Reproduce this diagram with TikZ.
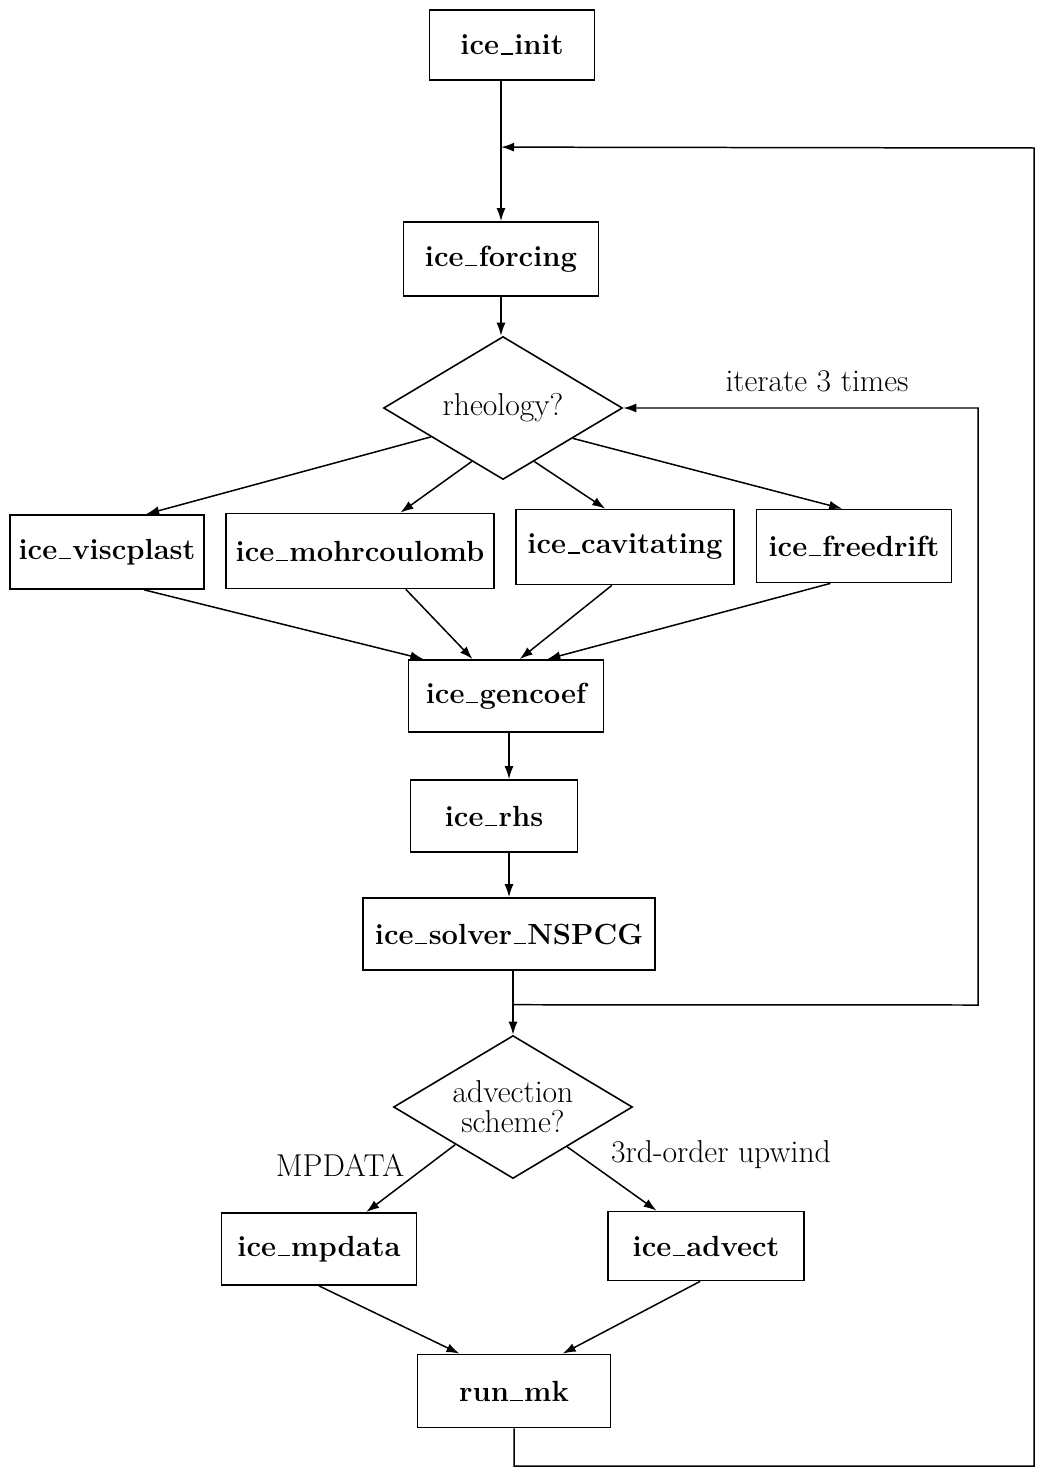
\documentclass[tikz,border=0pt]{standalone}
\usetikzlibrary{shapes.geometric,arrows.meta,calc}
\newcommand\usc{\kern0.05em\rule{0.42em}{0.85pt}\kern0.05em}
\begin{document}
\begin{tikzpicture}[x=0.02cm,y=-0.02cm,
 box/.style={draw,line width=1pt,inner sep=0pt,font=\fontsize{16.6}{19}\selectfont\bfseries},
 dec/.style={draw,diamond,line width=0.9pt,inner sep=0pt,aspect=1.66,minimum width=4.78cm,minimum height=2.86cm,align=center,font=\fontsize{18}{17}\selectfont},
 arr/.style={line width=0.85pt,-{Latex[length=2.6mm,width=1.8mm]}},
 lbl/.style={font=\fontsize{18}{21}\selectfont,inner sep=0pt}]
\useasboundingbox (0,0) rectangle (1042,1473);
\fill[white] (0,0) rectangle (1042,1473);

% nodes
\node[box,minimum width=3.3cm,minimum height=1.4cm] (init) at (512,45) {ice\usc init};
\node[box,minimum width=3.9cm,minimum height=1.48cm] (forcing) at (501,259) {ice\usc forcing};
\node[dec] (rheo) at (503,408) {rheology?};
\node[box,minimum width=3.88cm,minimum height=1.48cm] (visc) at (107,552) {ice\usc viscplast};
\node[box,minimum width=5.36cm,minimum height=1.5cm] (mohr) at (360,551) {ice\usc mohrcoulomb};
\node[box,minimum width=4.36cm,minimum height=1.5cm] (cav) at (625,547) {ice\usc cavitating};
\node[box,minimum width=3.9cm,minimum height=1.46cm] (free) at (854,546) {ice\usc freedrift};
\node[box,minimum width=3.9cm,minimum height=1.44cm] (gen) at (506,696) {ice\usc gencoef};
\node[box,minimum width=3.34cm,minimum height=1.44cm] (rhs) at (494,816) {ice\usc rhs};
\node[box,minimum width=5.84cm,minimum height=1.44cm] (solver) at (509,934) {ice\usc solver\usc NSPCG};
\node[dec] (adv) at (513,1107) {advection\\scheme?};
\node[box,minimum width=3.9cm,minimum height=1.44cm] (mp) at (319,1249) {ice\usc mpdata};
\node[box,minimum width=3.92cm,minimum height=1.38cm] (advect) at (706,1246) {ice\usc advect};
\node[box,minimum width=3.86cm,minimum height=1.46cm] (run) at (514,1391) {run\usc mk};

% labels
\node[lbl] (it) at (817,381) {iterate 3 times};
\node[lbl] (l1) at (340,1165) {MPDATA};
\node[lbl] (l2) at (721,1155) {3rd-order upwind};

% helper coordinates
\path (forcing.north) ++(0,-74) coordinate (j1);
\path (adv.north) ++(0,-30) coordinate (j2);
\coordinate (tr) at (1034,148);
\coordinate (bot) at (1034,1466);
\coordinate (c1) at (978,1005);

% top
\draw[arr] (init.south -| forcing.north) -- (forcing.north);
\draw[arr] (run.south) |- (bot) -- (tr) -- (j1);
\draw[arr] (forcing.south) -- (forcing.south |- rheo.north);

% rheology branches
\draw[arr] ($(rheo.west)!0.4!(rheo.south)$) -- ($(visc.north west)!0.7!(visc.north east)$);
\draw[arr] ($(rheo.west)!0.74!(rheo.south)$) -- ($(mohr.north west)!0.65!(mohr.north east)$);
\draw[arr] ($(rheo.east)!0.74!(rheo.south)$) -- ($(cav.north west)!0.41!(cav.north east)$);
\draw[arr] ($(rheo.east)!0.42!(rheo.south)$) -- ($(free.north west)!0.44!(free.north east)$);

% into gencoef
\draw[arr] ($(visc.south west)!0.69!(visc.south east)$) -- ($(gen.north west)!0.08!(gen.north east)$);
\draw[arr] ($(mohr.south west)!0.67!(mohr.south east)$) -- ($(gen.north west)!0.33!(gen.north east)$);
\draw[arr] ($(cav.south west)!0.44!(cav.south east)$) -- ($(gen.north west)!0.57!(gen.north east)$);
\draw[arr] ($(free.south west)!0.38!(free.south east)$) -- ($(gen.north west)!0.71!(gen.north east)$);

% chain
\draw[arr] (solver.north |- gen.south) -- (solver.north |- rhs.north);
\draw[arr] (solver.north |- rhs.south) -- (solver.north);
\draw[arr] (solver.south -| adv.north) -- (adv.north);
\draw[arr] (j2) -- (c1) |- (rheo.east);

% advection branches
\draw[arr] ($(adv.west)!0.52!(adv.south)$) -- ($(mp.north west)!0.74!(mp.north east)$);
\draw[arr] ($(adv.east)!0.55!(adv.south)$) -- ($(advect.north west)!0.25!(advect.north east)$);
\draw[arr] (mp.south) -- ($(run.north west)!0.22!(run.north east)$);
\draw[arr] ($(advect.south west)!0.47!(advect.south east)$) -- ($(run.north west)!0.75!(run.north east)$);
\end{tikzpicture}
\end{document}
